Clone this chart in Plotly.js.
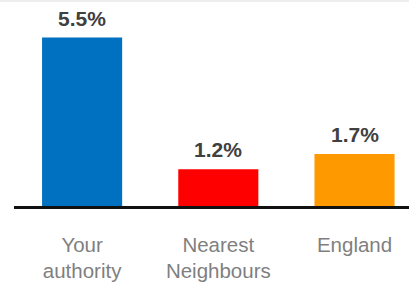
<!DOCTYPE html>
<html>
<head>
<meta charset="utf-8">
<script src="https://cdn.plot.ly/plotly-3.0.1.min.js"></script>
<style>
html,body{margin:0;padding:0;background:#fff;}
#chart{position:absolute;left:0;top:0;width:409px;height:284px;}
#strip{position:absolute;left:0;top:0;width:409px;height:2px;background:#eeeeee;z-index:5;}
</style>
</head>
<body>
<div id="chart"></div>
<div id="strip"></div>
<script>
const categories = ["Your<br>authority", "Nearest<br>Neighbours", "England"];
const values = [5.5, 1.2, 1.7];
const valueLabels = ["5.5%", "1.2%", "1.7%"];
const barColors = ["#0070C0", "#FF0000", "#FF9900"];

const trace = {
  type: "bar",
  x: categories,
  y: values,
  marker: {color: barColors},
  width: 0.588,
  hoverinfo: "none"
};

const annotations = categories.map((c, i) => ({
  x: c, y: values[i], text: "<b>" + valueLabels[i] + "</b>",
  xref: "x", yref: "y", showarrow: false, yanchor: "bottom",
  yshift: 6,
  font: {family: "Liberation Sans, Arial, sans-serif", size: 21, color: "#404040"}
}));

const layout = {
  width: 409, height: 284,
  margin: {l: 14, r: 0, t: 7, b: 78, pad: 0},
  paper_bgcolor: "#ffffff", plot_bgcolor: "#ffffff",
  showlegend: false,
  xaxis: {
    type: "category",
    range: [-0.5, 2.4],
    showline: true, linewidth: 3, linecolor: "#111111",
    showgrid: false, zeroline: false, ticks: "",
    ticklabelstandoff: 18,
    tickfont: {family: "Liberation Sans, Arial, sans-serif", size: 20.5, color: "#7f7f7f"},
    fixedrange: true
  },
  yaxis: {
    range: [0, 6.5], visible: false, showgrid: false, zeroline: false, fixedrange: true
  },
  annotations: annotations
};

Plotly.newPlot("chart", [trace], layout, {displayModeBar: false, staticPlot: true});
</script>
</body>
</html>
